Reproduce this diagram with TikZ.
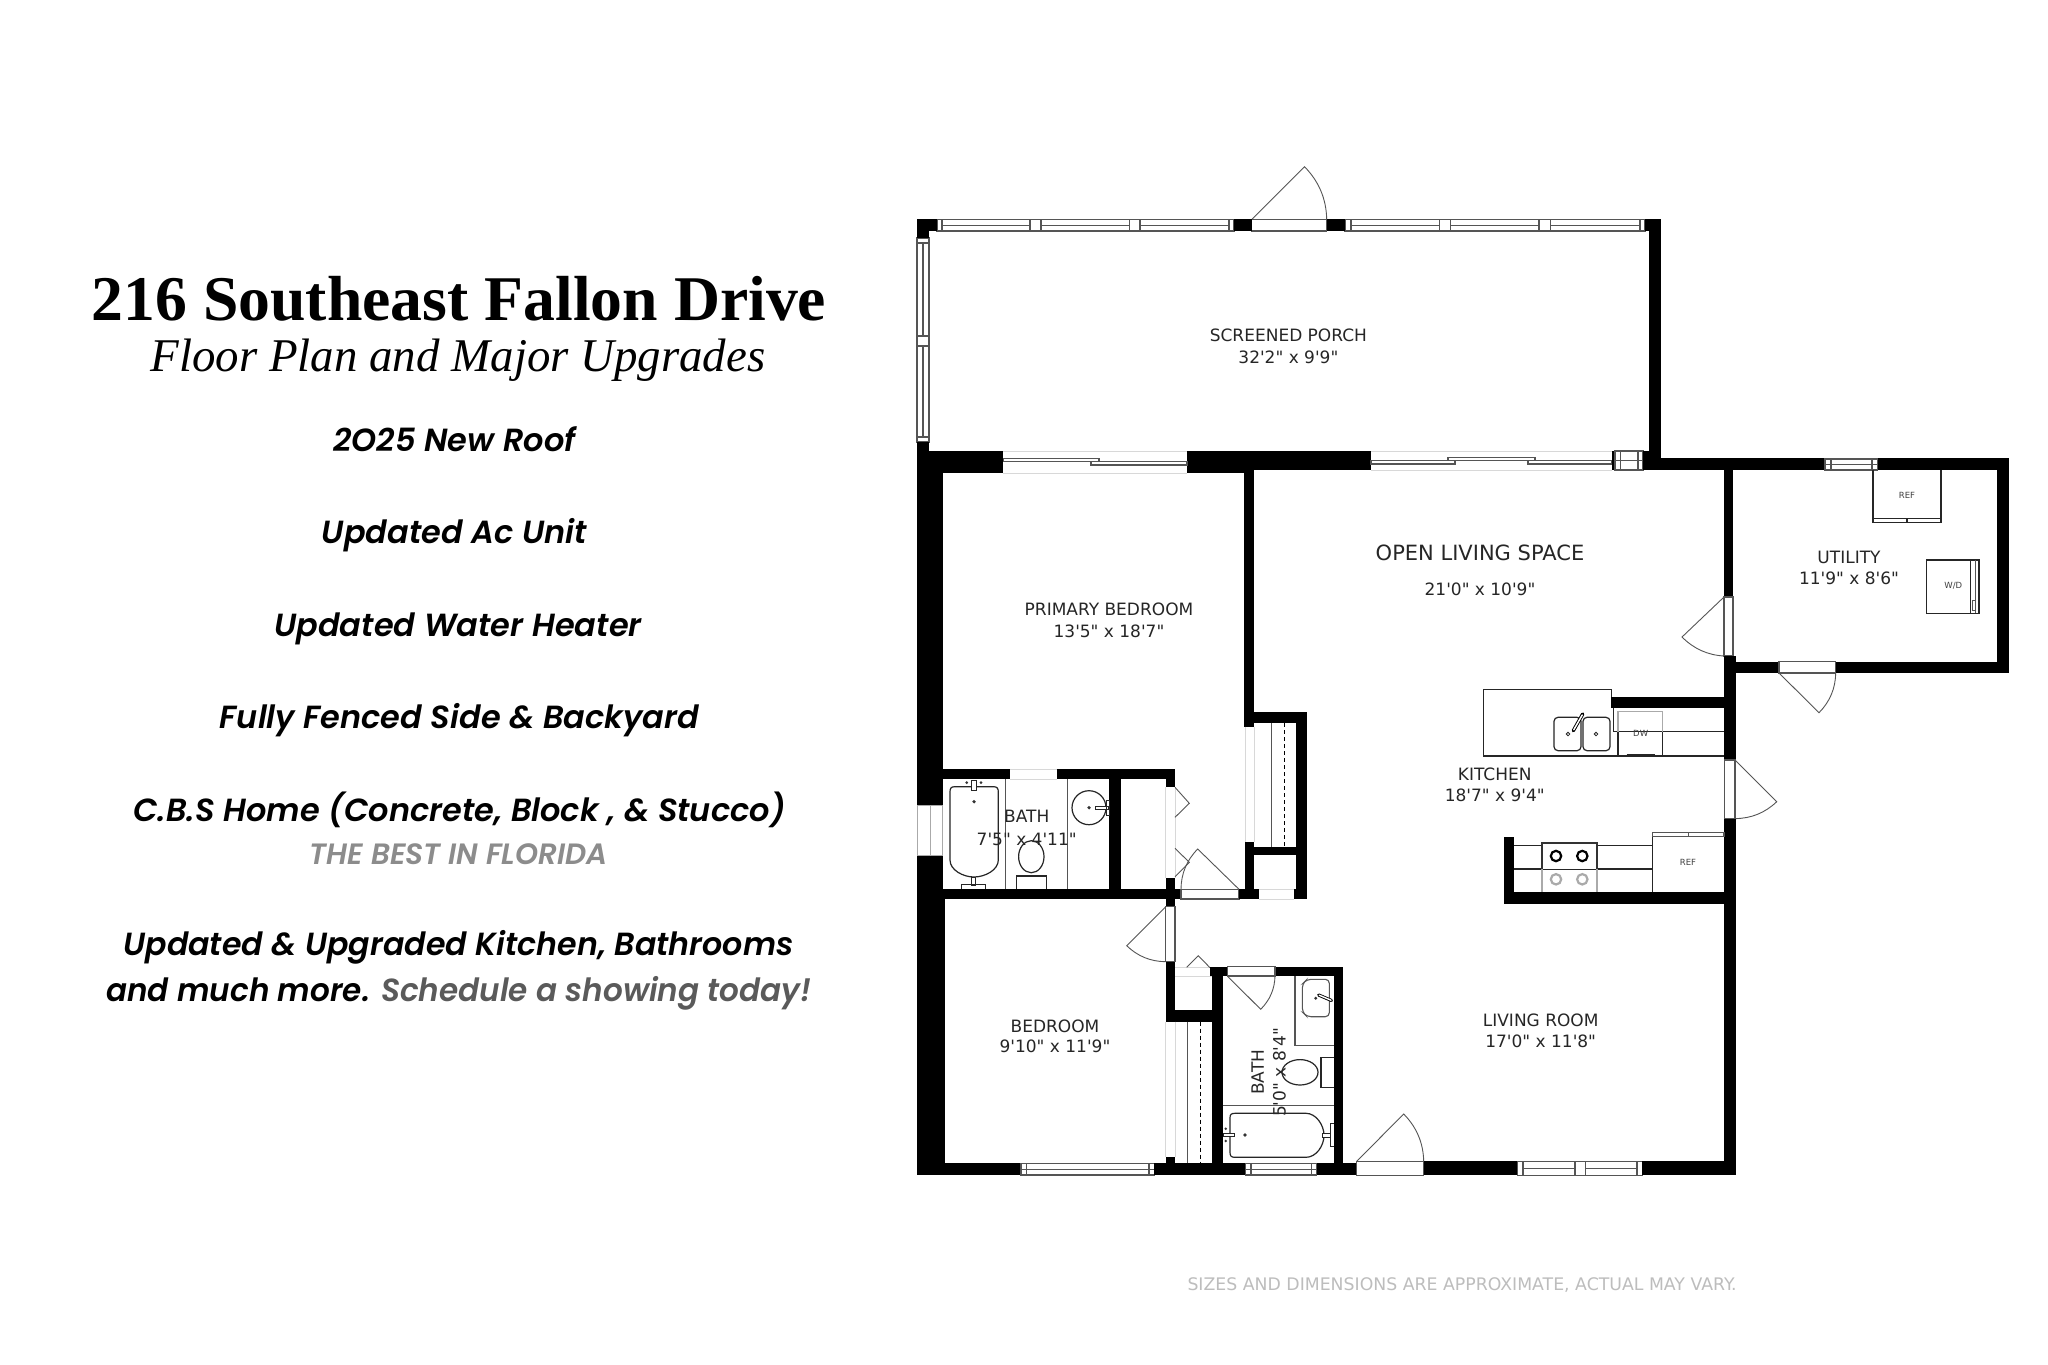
\documentclass[tikz,border=0pt]{standalone}
\usepackage{fontspec}
\usepackage{graphicx}
\usetikzlibrary{calc}
\setmainfont{Liberation Serif}
\newfontfamily\roomfont{DejaVu Sans}
\newfontfamily\bodyfont[ItalicFont={Poppins SemiBold Italic}]{Poppins SemiBold}
\definecolor{linegray}{HTML}{555555}
\definecolor{palegray}{HTML}{D8D8D8}
\definecolor{midgray}{HTML}{AAAAAA}
\definecolor{bestgray}{HTML}{8C8C8C}
\definecolor{showgray}{HTML}{5A5A5A}
\definecolor{footgray}{HTML}{BDBDBD}
\tikzset{
  wallfill/.style={fill=black,draw=none},
  fineline/.style={draw=linegray,line width=1.1pt},
  fixture/.style={draw=black!85,line width=1.2pt},
  paleline/.style={draw=palegray,line width=0.9pt},
  roomlabel/.style={font=\roomfont\fontsize{17}{19}\selectfont,text=black!85,inner sep=0pt},
  smalllabel/.style={font=\roomfont\fontsize{8.5}{9}\selectfont,text=black!75,inner sep=0pt},
  bodytext/.style={font=\bodyfont\itshape\fontsize{32}{36}\selectfont,inner sep=0pt,anchor=base},
}
\newcommand{\wallbox}[4]{\fill[wallfill] (#1,#2) rectangle (#3,#4);}
\newcommand{\winh}[4]{\filldraw[fineline,fill=white] (#1,#2) rectangle (#3,#4); \draw[fineline] (#1,{(#2+#4)/2}) -- (#3,{(#2+#4)/2});}
\newcommand{\winv}[4]{\filldraw[fineline,fill=white] (#1,#2) rectangle (#3,#4); \draw[fineline] ({(#1+#3)/2},#2) -- ({(#1+#3)/2},#4);}
\newcommand{\doorleaf}[6]{%
  \coordinate (dh) at (#1,#2); \coordinate (dt) at (#3,#4); \coordinate (de) at (#5,#6);
  \coordinate (dm) at ($(dt)!.5!(de)$);
  \draw[fineline,line width=.9pt] (dh) -- (dt)
    .. controls ($(dt)!.3333!(de) + .11*(dm) - .11*(dh)$) and ($(dt)!.6667!(de) + .11*(dm) - .11*(dh)$) .. (de);}
\begin{document}
\begin{tikzpicture}[x=1pt,y=-1pt]
\useasboundingbox (0,0) rectangle (2048,1365);
\fill[white] (0,0) rectangle (2048,1365);

% ---------- left column text
\node[font=\bfseries\fontsize{63.7}{66}\selectfont,inner sep=0pt] (title) at (459,299) {216 Southeast Fallon Drive};
\node[font=\itshape\fontsize{46.9}{50}\selectfont,inner sep=0pt] (subtitle) at (458,360) {Floor Plan and Major Upgrades};
\node[bodytext] (t1) at (454.5,451) {2O25 New Roof};
\node[bodytext] (t2) at (454.5,543.3) {Updated Ac Unit};
\node[bodytext] (t3) at (458,636) {Updated Water Heater};
\node[bodytext] (t4) at (459.5,728.3) {Fully Fenced Side \& Backyard};
\node[bodytext] (t5) at (459.5,821.7) {C.B.S Home (Concrete, Block , \& Stucco)};
\node[bodytext,font=\bodyfont\itshape\fontsize{29.4}{32}\selectfont,text=bestgray] (t6) at (458.5,864) {THE BEST IN FLORIDA};
\node[bodytext] (t7) at (458.5,955) {\scalebox{.99}[1]{Updated \& Upgraded Kitchen, Bathrooms}};
\node[bodytext] (t8) at (459,1001) {\scalebox{.971}[1]{and much more. \textcolor{showgray}{Schedule a showing today!}}};
\node[font=\roomfont\fontsize{17.3}{19}\selectfont,text=footgray,inner sep=0pt] (foot) at (1462,1285) {SIZES AND DIMENSIONS ARE APPROXIMATE, ACTUAL MAY VARY.};

% ---------- porch
\winh{937}{219.5}{1234}{231}
\winh{1345}{219.5}{1645}{231}
\foreach \a/\b in {1345/1351,1439.6/1450.3,1539/1550.7,1640/1644.7}{\filldraw[fineline,fill=white] (\a,219.5) rectangle (\b,231);}
\foreach \a/\b in {937/942,1030/1041,1129.6/1140,1229/1234}{\filldraw[fineline,fill=white] (\a,219.5) rectangle (\b,231);}
\winv{917}{238}{929}{442}
\foreach \a/\b in {238/243,336/346,437/442}{\filldraw[fineline,fill=white] (917,\a) rectangle (929,\b);}
\draw[fineline,fill=white] (1251.7,219.5) rectangle (1326.7,231);
\doorleaf{1251.7}{219.5}{1304.5}{166.7}{1326.7}{219.5}
\wallbox{917}{219.3}{937}{231.3}
\wallbox{917}{219.3}{929}{238}
\wallbox{1234}{219.3}{1251.7}{231.3}
\wallbox{1326.7}{219.3}{1345}{231.3}
\wallbox{1644.7}{219.3}{1661}{231.3}
\wallbox{1649.2}{219.3}{1661}{470}

% ---------- north walls
\wallbox{917}{442.3}{929}{473}
\wallbox{917}{451}{1003.3}{473.3}
\wallbox{917}{451}{942.7}{805.7}
\wallbox{1187}{451}{1244.4}{473.3}
\wallbox{1187}{451}{1371}{470}
\wallbox{1244.4}{451}{1254}{726.7}
\draw[paleline] (1003.3,451) -- (1187,451) (1003.3,473) -- (1187,473) (1371,451) -- (1612,451) (1371,470) -- (1612,470);
\draw[fineline] (1003.3,458.5) rectangle (1099,461.7);
\draw[fineline] (1091,461.7) rectangle (1187,465);
\draw[fineline] (1371,460.7) rectangle (1455,464);
\draw[fineline] (1448,457.5) rectangle (1535,460.7);
\draw[fineline] (1528,460.7) rectangle (1612,464);
\wallbox{1612}{451}{1615}{470}
\winh{1615}{451}{1643}{470}
\draw[fineline] (1620.6,451) -- (1620.6,470) (1638,451) -- (1638,470);
\wallbox{1643}{451}{1661}{470}
\wallbox{1661}{458.3}{1825}{470}
\winh{1825}{459}{1877.5}{470}
\draw[fineline] (1831,459) -- (1831,470) (1872,459) -- (1872,470);
\wallbox{1877.5}{458.3}{2008.6}{470}
\wallbox{1723.7}{470}{1733}{597}
\wallbox{1997}{458.3}{2008.6}{673}

% ---------- utility
\wallbox{1735}{661.7}{1779}{673}
\wallbox{1835.7}{661.7}{2008.6}{673}
\draw[fineline,fill=white] (1779,661.7) rectangle (1835.7,673);
\doorleaf{1779}{673}{1819}{712.7}{1835.7}{673}
\draw[fixture] (1873,470) -- (1873,518.3) -- (1941,518.3) -- (1941,470);
\draw[fixture] (1873,518.3) rectangle (1941,522.3) (1907,518.3) -- (1907,522.3);
\node[smalllabel] (ref1) at (1907,495.7) {REF};
\draw[fixture] (1926.7,560) rectangle (1979,613.3);
\draw[fixture] (1970.7,560) -- (1970.7,613.3);
\draw[fineline] (1975.5,560) -- (1975.5,613.3);
\draw[fineline,line width=.8pt] (1972,600) rectangle (1975,610);
\node[smalllabel] (wd) at (1953.3,586) {W/D};

% ---------- east wall and doors
\draw[fineline,fill=white] (1724,597) rectangle (1733,656);
\doorleaf{1724}{597}{1682}{637}{1724}{656}
\wallbox{1723.7}{656}{1735.5}{760}
\draw[fineline,fill=white] (1724.3,760) rectangle (1735,818.6);
\doorleaf{1735}{760}{1776.7}{801.7}{1735}{818.6}
\wallbox{1723.7}{818.6}{1735.7}{1175.3}

% ---------- kitchen
\wallbox{1611}{696.7}{1724}{708.3}
\draw[fixture] (1611.5,696.7) -- (1611.5,689.3) -- (1483.3,689.3) -- (1483.3,756) -- (1724,756);
\draw[fixture] (1613.5,708.3) -- (1613.5,731.7) -- (1724,731.7);
\draw[draw=midgray,line width=1.2pt] (1618,731.7) -- (1618,711.7) -- (1662.7,711.7) -- (1662.7,731.7);
\draw[fixture] (1618,731.7) -- (1618,756) (1662.7,731.7) -- (1662.7,756) (1626.7,754.7) -- (1655,754.7);
\node[smalllabel] (dw) at (1640.7,733) {DW};
\foreach \a/\b in {1554/1581,1583/1610}{\draw[fixture,rounded corners=4pt] (\a,717.3) -- (\b,717.3) -- (\b,750.7) -- (\a,750.7) -- cycle;}
\filldraw[fixture,fill=white,line width=.8pt] (1568,734) circle (1.8) (1596,734) circle (1.8);
\draw[black,line width=3.4pt,line cap=round] (1573.3,730.7) -- (1582.7,714);
\draw[white,line width=1.5pt,line cap=round] (1573.8,729.7) -- (1582.2,715);
\wallbox{1504}{837.3}{1514.3}{904.3}
\wallbox{1504}{892.3}{1724}{904.3}
\draw[fixture] (1514,845.7) -- (1652,845.7) (1514,869) -- (1652,869);
\draw[draw=midgray,line width=2pt] (1541.7,869) -- (1541.7,891.7) (1597,869) -- (1597,891.7);
\draw[draw=black!80,line width=2pt,fill=white] (1541.7,869) -- (1541.7,842.7) -- (1597.3,842.7) -- (1597.3,869);
\foreach \a in {1556,1582.3}{\draw[black,line width=2.2pt] (\a,856) circle (5.2); \draw[midgray,line width=2.2pt] (\a,879.3) circle (5.2);}
\draw[fixture] (1652.3,892.3) -- (1652.3,836.7) -- (1724,836.7);
\draw[fineline] (1652.3,832.7) rectangle (1724,836.7) (1688.3,832.7) -- (1688.3,836.7);
\node[smalllabel] (ref2) at (1688,862) {REF};

% ---------- primary bedroom / bath walls
\filldraw[draw=midgray,line width=1pt,fill=white] (917,805.7) rectangle (942.7,855.7);
\draw[draw=midgray,line width=1pt] (930,805.7) -- (930,855.7);
\wallbox{917}{855.7}{942.7}{899}
\wallbox{942.7}{769.3}{1010}{779.3}
\draw[paleline] (1010,769.3) -- (1056.7,769.3) (1010,779.3) -- (1056.7,779.3);
\wallbox{1056.7}{769.3}{1175}{779.3}
\wallbox{1165.7}{769.3}{1175}{787.3}
\wallbox{1109}{779.3}{1121}{889.3}
\wallbox{917}{889.3}{1181}{899}
\wallbox{1165.7}{878.3}{1175}{906.7}
\draw[paleline] (1175,787.3) -- (1175,878.3) (1165.7,787.3) -- (1165.7,878.3);
\draw[fineline,fill=white] (1181,889.3) rectangle (1239,899);
\doorleaf{1239}{889.3}{1197.7}{849}{1181}{889.3}
\wallbox{1239}{889.3}{1259}{899}
\wallbox{1294.3}{889.3}{1307.3}{899}
\draw[paleline] (1259,889.3) -- (1294.3,889.3) (1259,899) -- (1294.3,899);
\draw[fineline,line width=.9pt] (1175,787.3) -- (1189.3,803.3) -- (1175,817.3) (1175,848.3) -- (1189.3,862.3) -- (1175,876.7);
% closet 1
\wallbox{1254}{711.7}{1307.3}{723.3}
\wallbox{1296}{711.7}{1307.3}{899}
\wallbox{1245}{846.7}{1296}{855}
\wallbox{1245}{842.3}{1254}{899}
\draw[paleline] (1245,726.7) -- (1245,842.3) (1254,726.7) -- (1254,842.3);
\draw[fineline] (1271.7,723.3) -- (1271.7,846.7);
\draw[fineline,dash pattern=on 4pt off 3pt,line width=1.4pt,black] (1284.3,723.3) -- (1284.3,846.7);

% bath 1 fixtures
\draw[fineline] (1005.3,779.3) -- (1005.3,889.3) (1067.3,779.3) -- (1067.3,889.3);
\draw[fixture] (955,786.7) -- (993.3,786.7) .. controls (997,786.7) and (998.3,788) .. (998.3,792) -- (998.3,860) .. controls (998.3,870) and (985,877) .. (974,877) .. controls (963,877) and (950,870) .. (950,860) -- (950,792) .. controls (950,788) and (951,786.7) .. (955,786.7) -- cycle;
\filldraw[fixture,fill=white,line width=.8pt] (971.5,780) rectangle (976.5,790);
\fill[black!80] (966.7,782.7) circle (1.5) (981,782.7) circle (1.5) (974,801.7) circle (1.8);
\filldraw[fixture,fill=white,line width=.8pt] (971,877) rectangle (975,885);
\draw[fixture,line width=.9pt] (961,889) -- (961,884.5) -- (985,884.5) -- (985,889);
\draw[fixture] (1031.3,856.7) ellipse (12.7 and 16);
\draw[fixture] (1016.3,889.3) -- (1016.3,876) -- (1046.7,876) -- (1046.7,889.3);
\draw[fixture] (1089,807.7) circle (17);
\fill[black!80] (1089,807.7) circle (1.8);
\filldraw[fixture,fill=white,line width=.8pt] (1095.7,806) rectangle (1108.3,809.4);
\draw[fixture,line width=.9pt] (1106,800) rectangle (1109,815);
\node[roomlabel] (bath1a) at (1026.7,816.7) {BATH};
\node[roomlabel] (bath1b) at (1026.7,839) {7'5" x 4'11"};

% ---------- bedroom
\wallbox{917}{899}{945}{1175.3}
\draw[fineline,fill=white] (1165.7,906.7) rectangle (1175,961.7);
\doorleaf{1165.7}{906.7}{1126.7}{945.7}{1165.7}{961.7}
\wallbox{1165.7}{961.7}{1175}{1021.7}
\wallbox{1165.7}{1010}{1215}{1021.7}
\draw[paleline] (1175,967) -- (1210,967) (1175,976) -- (1212,976);
\draw[fineline,line width=.9pt] (1186.7,967.3) -- (1198.3,955.7) -- (1210,967.7);
\draw[paleline] (1165.7,1021.7) -- (1165.7,1156.7) (1175,1021.7) -- (1175,1156.7);
\wallbox{1165.7}{1156.7}{1175}{1163.3}
\draw[fineline] (1187.7,1021.7) -- (1187.7,1163.3);
\draw[fineline,dash pattern=on 4pt off 3pt,line width=1.4pt,black] (1200.3,1021.7) -- (1200.3,1163.3);

% ---------- bath 2 walls
\wallbox{1212.3}{966.7}{1222.7}{1163.3}
\wallbox{1210}{966.7}{1227.3}{976}
\wallbox{1275}{966.7}{1343.3}{976}
\wallbox{1334.3}{966.7}{1343.3}{1163.3}
\draw[fineline,fill=white] (1227.3,966.7) rectangle (1275,976);
\doorleaf{1227.3}{976}{1260.7}{1009.3}{1275}{976}
\draw[fineline] (1295,976) -- (1295,1045.7) -- (1334.3,1045.7);
\draw[fineline,rounded corners=4pt] (1329.3,979.3) -- (1307,979.3) -- (1302.3,984) -- (1302.3,1012) -- (1307,1016.7) -- (1329.3,1016.7) -- cycle;
\draw[black,line width=3.2pt,line cap=round] (1318.7,995) -- (1331.5,1000.5);
\draw[white,line width=1.4pt,line cap=round] (1319.2,995.2) -- (1331,1000.2);
\fill[black!80] (1315.7,998.3) circle (1.6);
\draw[fixture] (1300,1072.3) ellipse (18 and 12.7);
\draw[fixture] (1334.3,1057.3) -- (1321,1057.3) -- (1321,1087.3) -- (1334.3,1087.3);
\draw[fineline] (1222.7,1105.7) -- (1334.3,1105.7);
\draw[fixture] (1235,1113.3) -- (1306,1113.3) .. controls (1316,1113.3) and (1324,1125) .. (1324,1135.3) .. controls (1324,1146) and (1316,1157.3) .. (1306,1157.3) -- (1235,1157.3) .. controls (1231,1157.3) and (1230,1156) .. (1230,1152) -- (1230,1118) .. controls (1230,1114.5) and (1231,1113.3) .. (1235,1113.3) -- cycle;
\filldraw[fixture,fill=white,line width=.8pt] (1223,1133.5) rectangle (1234,1136.8);
\fill[black!80] (1225.7,1128.7) circle (1.4) (1225.7,1141) circle (1.4) (1245,1135) circle (1.8);
\filldraw[fixture,fill=white,line width=.8pt] (1322,1133) rectangle (1330,1137);
\draw[fixture,line width=.9pt] (1334,1123.3) -- (1330,1123.3) -- (1330,1146.7) -- (1334,1146.7);
\node[roomlabel,rotate=90] (bath2a) at (1257.7,1072.3) {BATH};
\node[roomlabel,rotate=90] (bath2b) at (1279.3,1072.3) {5'0" x 8'4"};

% ---------- south wall
\wallbox{917}{1163.3}{1021}{1175.3}
\winh{1021}{1163.8}{1154.3}{1175}
\foreach \a/\b in {1021/1026.5,1149/1154.3}{\draw[fineline] (\a,1163.8) rectangle (\b,1175);}
\wallbox{1154.3}{1163.3}{1245.7}{1175.3}
\winh{1245.7}{1163.8}{1316.7}{1175}
\foreach \a/\b in {1245.7/1251,1311.5/1316.7}{\draw[fineline] (\a,1163.8) rectangle (\b,1175);}
\wallbox{1316.7}{1163.3}{1356.7}{1175.3}
\wallbox{1334.3}{1155}{1343.3}{1163.3}
\draw[fineline,fill=white] (1356.7,1161.3) rectangle (1423.7,1175.3);
\doorleaf{1356.7}{1161.3}{1403.7}{1114}{1423.7}{1161.3}
\wallbox{1423.7}{1161.3}{1517.7}{1175.3}
\winh{1517.7}{1161.3}{1642.3}{1175.3}
\foreach \a/\b in {1517.7/1523,1575/1585.7,1637/1642.3}{\filldraw[fineline,fill=white] (\a,1161.3) rectangle (\b,1175.3);}
\wallbox{1642.3}{1161.3}{1735.7}{1175.3}

% ---------- room labels
\node[roomlabel] (porcha) at (1288.4,335.3) {SCREENED PORCH};
\node[roomlabel] (porchb) at (1288.4,357.3) {32'2" x 9'9"};
\node[roomlabel] (primarya) at (1109,609.6) {PRIMARY BEDROOM};
\node[roomlabel] (primaryb) at (1109,631) {13'5" x 18'7"};
\node[roomlabel,font=\roomfont\fontsize{21}{23}\selectfont] (opena) at (1480,552.5) {OPEN LIVING SPACE};
\node[roomlabel] (openb) at (1480,589) {21'0" x 10'9"};
\node[roomlabel] (utila) at (1849,557) {UTILITY};
\node[roomlabel] (utilb) at (1849,578.5) {11'9" x 8'6"};
\node[roomlabel] (kita) at (1494.7,774.3) {KITCHEN};
\node[roomlabel] (kitb) at (1494.7,795.7) {18'7" x 9'4"};
\node[roomlabel] (liva) at (1540.7,1020) {LIVING ROOM};
\node[roomlabel] (livb) at (1540.7,1041) {17'0" x 11'8"};
\node[roomlabel] (beda) at (1055,1026) {BEDROOM};
\node[roomlabel] (bedb) at (1055,1046.7) {9'10" x 11'9"};
\end{tikzpicture}
\end{document}
